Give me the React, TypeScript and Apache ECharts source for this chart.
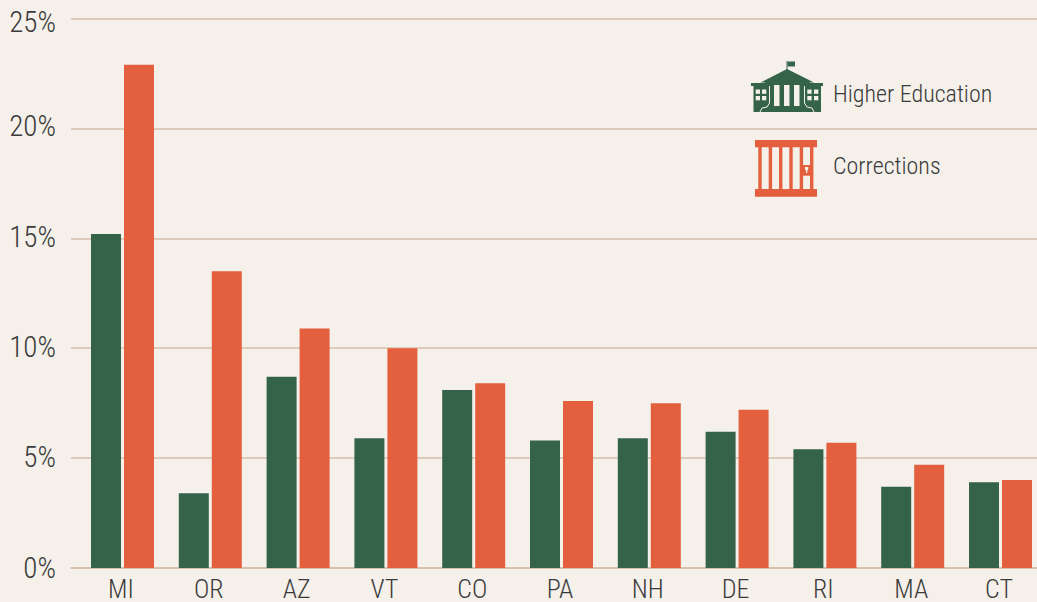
import React, { useEffect, useRef } from "react";
import * as echarts from "echarts";

const categories = ["MI", "OR", "AZ", "VT", "CO", "PA", "NH", "DE", "RI", "MA", "CT"];
const higherEducation = [15.2, 3.4, 8.7, 5.9, 8.1, 5.8, 5.9, 6.2, 5.4, 3.7, 3.9];
const corrections = [22.9, 13.5, 10.9, 10.0, 8.4, 7.6, 7.5, 7.2, 5.7, 4.7, 4.0];
const seriesNames = ["Higher Education", "Corrections"];

const BG = "#f5f0ea";
const GREEN = "#35634a";
const ORANGE = "#e35f3d";
const RULE = "#d5c0a8";
const INK = "#3a3a3a";
const FONT = '"Roboto Condensed", Roboto, sans-serif';

const rect = (x: number, y: number, w: number, h: number, fill: string) => ({
  type: "rect",
  shape: { x, y, width: w, height: h },
  style: { fill },
  silent: true,
});

function buildingIcon() {
  const els: any[] = [
    rect(786.5, 61, 1, 9, GREEN),
    { type: "polygon", shape: { points: [[787.5, 61.5], [795, 61.5], [795, 66.5], [787.5, 66.5]] }, style: { fill: GREEN } },
    { type: "polygon", shape: { points: [[787, 69], [814, 82.5], [760.5, 82.5]] }, style: { fill: GREEN } },
    rect(765, 82, 44.5, 30, GREEN),
    rect(751, 83, 19, 3, GREEN),
    rect(804, 83, 19, 3, GREEN),
    rect(753.5, 86, 16, 26, GREEN),
    rect(805, 86, 16, 26, GREEN),
  ];
  [774, 784, 794].forEach((x) => els.push(rect(x, 85, 5.5, 21, BG)));
  [755.7, 762].forEach((x) => [89.5, 96].forEach((y) => els.push(rect(x, y, 4.3, 4.3, BG))));
  [807.3, 814].forEach((x) => [89.5, 96].forEach((y) => els.push(rect(x, y, 4.3, 4.3, BG))));
  els.push({
    type: "polyline",
    shape: { points: [[760, 112], [762, 108], [767, 107], [769.5, 103], [769.5, 86]] },
    style: { stroke: BG, fill: "none", lineWidth: 1 },
  });
  els.push({
    type: "polyline",
    shape: { points: [[814, 112], [812, 108], [807, 107], [804.5, 103], [804.5, 86]] },
    style: { stroke: BG, fill: "none", lineWidth: 1 },
  });
  return els;
}

function jailIcon() {
  const els: any[] = [rect(755, 140, 62, 7.3, ORANGE), rect(755, 189, 62, 7.7, ORANGE)];
  [758.3, 768.7, 779, 789.3, 799.7, 810].forEach((x) => els.push(rect(x, 147, 3.4, 42, ORANGE)));
  els.push(rect(803, 165, 7, 10.7, ORANGE));
  els.push(rect(805, 167, 3.2, 3, BG));
  els.push(rect(806, 169, 1.4, 4, BG));
  return els;
}

const legendText = (text: string, y: number) => ({
  type: "text",
  x: 833,
  y,
  style: { text, fill: INK, font: `300 24px ${FONT}`, textVerticalAlign: "middle" },
  silent: true,
});

const yLabelStyle = (padding: number[]) => ({
  fontFamily: FONT,
  fontWeight: 300,
  fontSize: 29,
  color: INK,
  padding,
});

export default function App() {
  const ref = useRef<HTMLDivElement>(null);
  useEffect(() => {
    document.body.style.margin = "0";
    document.body.style.background = BG;
    const chart = echarts.init(ref.current!, null, { renderer: "svg" });
    chart.setOption({
      animation: false,
      backgroundColor: BG,
      grid: [
        { left: 71, top: 18.5, width: 966, height: 549.5, outerBoundsMode: "none" },
        { left: 78.6, top: 18.5, width: 965.8, height: 549.5, outerBoundsMode: "none" },
      ],
      xAxis: [
        {
          gridIndex: 0,
          type: "value",
          min: 0,
          max: 1,
          splitLine: { show: false },
          axisTick: { show: false },
          axisLabel: { show: false },
          axisLine: { show: true, onZero: false, lineStyle: { color: RULE, width: 1.6 } },
        },
        {
          gridIndex: 1,
          type: "category",
          data: categories,
          axisTick: { show: false },
          axisLine: { show: false },
          axisLabel: { color: INK, fontFamily: FONT, fontWeight: 300, fontSize: 26, lineHeight: 24, margin: 9, interval: 0, padding: [0, 3, 0, 0] },
        },
      ],
      yAxis: [
        {
          gridIndex: 0,
          type: "value",
          min: 0,
          max: 25,
          interval: 5,
          axisLine: { show: false },
          axisTick: { show: false },
          splitLine: { show: true, lineStyle: { color: RULE, width: 1.6 } },
          axisLabel: {
            margin: 15,
            formatter: (v: number) => (v === 25 ? `{top|${v}%}` : v === 0 ? `{base|${v}%}` : v === 20 ? `{high|${v}%}` : `{mid|${v}%}`),
            rich: {
              top: yLabelStyle([7, 0, 0, 0]),
              high: yLabelStyle([0, 0, 5, 0]),
              mid: yLabelStyle([0, 0, 3, 0]),
              base: yLabelStyle([0, 0, 1, 0]),
            },
          },
        },
        {
          gridIndex: 1,
          type: "value",
          min: 0,
          max: 25,
          interval: 5,
          show: false,
          splitLine: { show: false },
        },
      ],
      series: [
        {
          name: seriesNames[0],
          type: "bar",
          xAxisIndex: 1,
          yAxisIndex: 1,
          data: higherEducation,
          barWidth: 30,
          barGap: "10%",
          itemStyle: { color: GREEN },
        },
        {
          name: seriesNames[1],
          type: "bar",
          xAxisIndex: 1,
          yAxisIndex: 1,
          data: corrections,
          barWidth: 30,
          barGap: "10%",
          itemStyle: { color: ORANGE },
        },
      ],
      graphic: [
        ...buildingIcon(),
        ...jailIcon(),
        legendText(seriesNames[0], 93.5),
        legendText(seriesNames[1], 165.5),
      ],
    });
    return () => chart.dispose();
  }, []);
  return <div ref={ref} style={{ position: "absolute", left: 0, top: 0, width: 1037, height: 602 }} />;
}
